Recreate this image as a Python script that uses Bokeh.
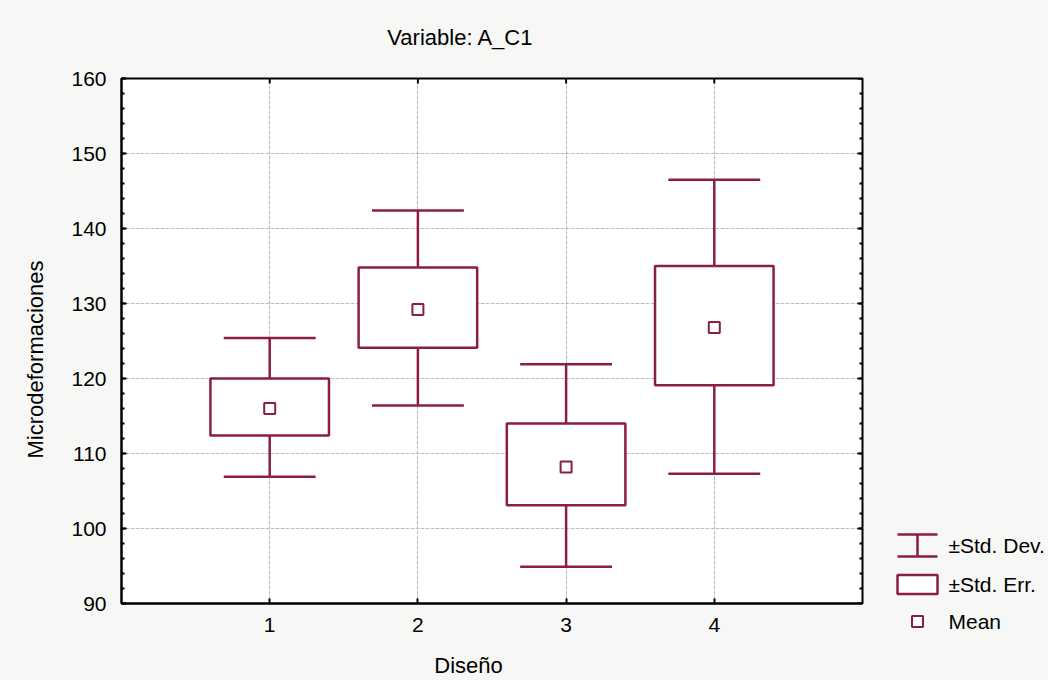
import numpy as np
from bokeh.plotting import figure
from bokeh.models import (Range1d, LinearAxis, FixedTicker, SingleIntervalTicker, Grid,
                          ColumnDataSource)
from bokeh.transform import dodge
from bokeh.layouts import row, column
from bokeh.core.properties import value
from bokeh.embed import file_html
from bokeh.resources import INLINE

# ---- data ----
groups = [1, 2, 3, 4]
means = [116.0, 129.2, 108.2, 126.8]
se_low = [112.4, 124.1, 103.1, 119.1]
se_high = [120.0, 134.8, 114.0, 135.0]
sd_low = [106.9, 116.4, 94.9, 107.3]
sd_high = [125.4, 142.4, 121.9, 146.5]
x_ticks = [1, 2, 3, 4]
y_min, y_max, y_step = 90, 160, 10
x_min, x_max = 0, 5
legend_labels = ["\u00b1Std. Dev.", "\u00b1Std. Err.", "Mean"]

title_text = "Variable: A_C1"
x_label = "Dise\u00f1o"
y_label = "Microdeformaciones"

# ---- layout / style (page coordinates) ----
W, H = 1048, 680
T_H = 56                    # title strip height
M_H = 594                   # chart row height
X_H = H - T_H - M_H         # x label strip height
YL_W = 50                   # y label strip width
MAIN_W = 822                # chart canvas width
LEG_W = W - YL_W - MAIN_W   # legend strip width
FRAME_L, FRAME_R, FRAME_T, FRAME_B = 121, 862, 78, 603
C = "#8b1e44"
BG = "#f7f7f5"
FONT = "Liberation Sans"

def strip(width, height):
    f = figure(width=width, height=height, x_range=Range1d(0, width),
               y_range=Range1d(0, height), output_backend="svg", toolbar_location=None,
               title=None, x_axis_location=None, y_axis_location=None, min_border=0,
               border_fill_color=BG, background_fill_color=BG)
    f.frame_align = False
    f.outline_line_color = None
    f.xgrid.visible = False
    f.ygrid.visible = False
    return f

src = ColumnDataSource(dict(x=groups, mean=means, se_lo=se_low, se_hi=se_high,
                            sd_lo=sd_low, sd_hi=sd_high))

p = figure(width=MAIN_W, height=M_H, x_range=Range1d(x_min, x_max),
           y_range=Range1d(y_min, y_max), title=None,
           output_backend="svg", toolbar_location=None,
           x_axis_location=None, y_axis_location=None,
           min_border_left=FRAME_L - YL_W, min_border_right=YL_W + MAIN_W - FRAME_R,
           min_border_top=FRAME_T - T_H, min_border_bottom=T_H + M_H - FRAME_B,
           border_fill_color=BG, background_fill_color="white")
p.frame_align = False
p.outline_line_color = "black"
p.outline_line_width = 2

yticker = SingleIntervalTicker(interval=y_step, num_minor_ticks=5)
xticker = FixedTicker(ticks=x_ticks)

def style_axis(ax):
    ax.axis_line_width = 2
    ax.axis_line_color = "black"
    ax.major_tick_in = 5
    ax.major_tick_out = 0
    ax.minor_tick_in = 3
    ax.minor_tick_out = 0
    ax.major_tick_line_width = 2
    ax.minor_tick_line_width = 2
    ax.major_label_text_font = FONT
    ax.major_label_text_color = "black"
    ax.major_label_text_font_size = "21px"

left = LinearAxis(ticker=yticker)
style_axis(left)
left.major_label_standoff = 15
p.add_layout(left, "left")

bottom = LinearAxis(ticker=xticker)
style_axis(bottom)
bottom.major_label_standoff = 14
p.add_layout(bottom, "below")

# inward ticks along the right and top borders
y_major = np.arange(y_min, y_max + 0.1, y_step)
y_minor = np.arange(y_min, y_max + 0.1, y_step / 5)
p.scatter(x=[x_max] * len(y_minor), y=y_minor, marker="dash", size=6,
          line_color="black", line_width=2)
p.scatter(x=[x_max] * len(y_major), y=y_major, marker="dash", size=10,
          line_color="black", line_width=2)
p.scatter(x=x_ticks, y=[y_max] * len(x_ticks), marker="dash", size=10, angle=np.pi / 2,
          line_color="black", line_width=2)

p.add_layout(Grid(dimension=0, ticker=xticker, grid_line_color="#aaaaaa",
                  grid_line_dash="2 3", grid_line_width=1))
p.add_layout(Grid(dimension=1, ticker=yticker, grid_line_color="#aaaaaa",
                  grid_line_dash="2 3", grid_line_width=1))

# whiskers
p.segment(x0="x", y0="sd_lo", x1="x", y1="se_lo", source=src, line_color=C, line_width=2.5)
p.segment(x0="x", y0="se_hi", x1="x", y1="sd_hi", source=src, line_color=C, line_width=2.5)
p.segment(x0=dodge("x", -0.31), y0="sd_lo", x1=dodge("x", 0.31), y1="sd_lo", source=src,
          line_color=C, line_width=2.5)
p.segment(x0=dodge("x", -0.31), y0="sd_hi", x1=dodge("x", 0.31), y1="sd_hi", source=src,
          line_color=C, line_width=2.5)
# boxes
p.quad(left=dodge("x", -0.4), right=dodge("x", 0.4), bottom="se_lo", top="se_hi", source=src,
       fill_color="white", line_color=C, line_width=2.5)
# mean
p.scatter(x="x", y="mean", source=src, marker="square", size=11, fill_color="white",
          line_color=C, line_width=2)

txt = dict(text_font=value(FONT), text_color="black", text_baseline="middle")

# ---- title strip ----
tf = strip(W, T_H)
tf.text(x=[460], y=[T_H - 37], text=[title_text], text_align="center",
        text_font_size="22px", **txt)

# ---- y label strip ----
yf = strip(YL_W, M_H)
yf.text(x=[35], y=[T_H + M_H - 359], text=[y_label], angle=np.pi / 2, text_align="center",
        text_font_size="22px", **txt)

# ---- legend strip ----
lf = strip(LEG_W, M_H)
ox = YL_W + MAIN_W
ly = [545, 584, 621]
sym_l, sym_r = 897 - ox, 937 - ox
sym_c = (sym_l + sym_r) / 2
yy = [T_H + M_H - v for v in ly]
lf.segment(x0=[sym_l, sym_l, sym_c], y0=[yy[0] + 11, yy[0] - 11, yy[0] + 11],
           x1=[sym_r, sym_r, sym_c], y1=[yy[0] + 11, yy[0] - 11, yy[0] - 11],
           line_color=C, line_width=2.5)
lf.quad(left=[sym_l], right=[sym_r], top=[yy[1] + 9.5], bottom=[yy[1] - 9.5],
        fill_color="white", line_color=C, line_width=2.5)
lf.scatter(x=[sym_c], y=[yy[2]], marker="square", size=11, fill_color="white",
           line_color=C, line_width=2)
lf.text(x=[948 - ox] * 3, y=yy, text=legend_labels, text_font_size="21px", **txt)

# ---- x label strip ----
xf = strip(W, X_H)
xf.text(x=[468], y=[H - 665], text=[x_label], text_align="center",
        text_font_size="22px", **txt)

bgs = {"background-color": BG}
layout = column(tf, row(yf, p, lf, styles=bgs), xf, styles=bgs)
open("out.html", "w").write(file_html(layout, INLINE))
